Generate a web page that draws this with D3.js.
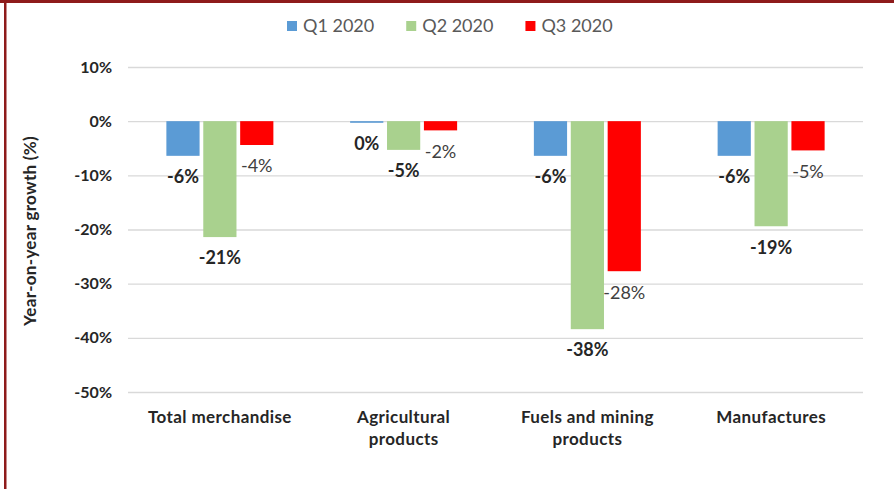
<!DOCTYPE html>
<html>
<head>
<meta charset="utf-8">
<script src="https://cdn.jsdelivr.net/npm/d3@7/dist/d3.min.js"></script>
<style>
  html, body { margin: 0; padding: 0; background: #fff; }
  svg { display: block; font-family: Lato, "Open Sans", sans-serif; }
</style>
</head>
<body>
<svg id="chart" width="894" height="489"></svg>
<script>
// ---- data ----
const categories = [["Total merchandise"], ["Agricultural", "products"], ["Fuels and mining", "products"], ["Manufactures"]];
const seriesNames = ["Q1 2020", "Q2 2020", "Q3 2020"];
const q1 = [-6.4, -0.3, -6.4, -6.4];
const q2 = [-21.4, -5.3, -38.4, -19.4];
const q3 = [-4.4, -1.7, -27.7, -5.4];
const yTicks = [10, 0, -10, -20, -30, -40, -50];
const colors = ["#5B9BD5", "#A9D18E", "#FF0000"];

const seriesValues = [q1, q2, q3];
const catKeys = categories.map(c => c.join(" "));

const svg = d3.select("#chart");

// frame
svg.append("rect").attr("x", 0).attr("y", 0).attr("width", 894).attr("height", 3).attr("fill", "#8E1B1B");
svg.append("rect").attr("x", 4).attr("y", 0).attr("width", 2.5).attr("height", 489).attr("fill", "#8E1B1B");

const x = d3.scaleBand().domain(catKeys).range([128, 863]).paddingInner(0).paddingOuter(0);
const xSub = d3.scaleBand().domain(seriesNames).range([-53.5, 53.5]).paddingInner(0.1).paddingOuter(0);
const y = d3.scaleLinear().domain([-50, 10]).range([392, 67]);

// gridlines
const yAxis = d3.axisLeft(y).tickValues(yTicks).tickSize(-(863 - 128)).tickFormat(d => d + "%").tickPadding(16);
const gy = svg.append("g").attr("transform", "translate(128,0)").call(yAxis);
gy.select(".domain").remove();
gy.selectAll(".tick line").attr("stroke", "#D9D9D9").attr("stroke-width", 1.3);
gy.selectAll(".tick text").attr("font-size", 16).attr("font-weight", "bold").attr("fill", "#262626")
  .attr("font-family", "Lato, sans-serif");

// bars
const groups = svg.append("g").selectAll("g").data(catKeys).join("g")
  .attr("transform", d => `translate(${x(d) + x.bandwidth() / 2},0)`);

seriesNames.forEach((s, si) => {
  groups.append("rect")
    .attr("x", xSub(s))
    .attr("width", xSub.bandwidth())
    .attr("y", (d, i) => Math.min(y(0), y(seriesValues[si][i])))
    .attr("height", (d, i) => Math.abs(y(seriesValues[si][i]) - y(0)))
    .attr("fill", colors[si]);
});

// data labels
seriesNames.forEach((s, si) => {
  groups.append("text")
    .attr("x", xSub(s) + xSub.bandwidth() / 2)
    .attr("y", (d, i) => y(seriesValues[si][i]) + 21)
    .attr("dy", "0.35em")
    .attr("text-anchor", "middle")
    .attr("font-size", 18)
    .attr("font-weight", si === 2 ? "normal" : "bold")
    .attr("fill", si === 2 ? "#404040" : "#262626")
    .text((d, i) => { const r = Math.round(seriesValues[si][i]); return (r === 0 ? 0 : r) + "%"; });
});

// category labels
const catG = svg.append("g");
categories.forEach((lines, i) => {
  const t = catG.append("text")
    .attr("x", x(catKeys[i]) + x.bandwidth() / 2)
    .attr("y", 423)
    .attr("text-anchor", "middle")
    .attr("font-size", 17)
    .attr("letter-spacing", 0.4)
    .attr("font-weight", "bold")
    .attr("fill", "#262626");
  lines.forEach((ln, j) => {
    t.append("tspan").attr("x", x(catKeys[i]) + x.bandwidth() / 2).attr("dy", j === 0 ? 0 : 22).text(ln);
  });
});

// axis title
svg.append("text")
  .attr("transform", "translate(30,231) rotate(-90)")
  .attr("text-anchor", "middle")
  .attr("dy", "0.35em")
  .attr("font-size", 17)
  .attr("letter-spacing", 0.3)
  .attr("font-weight", "bold")
  .attr("fill", "#262626")
  .text("Year-on-year growth (%)");

// legend
const legend = svg.append("g");
let lx = 287;
seriesNames.forEach((s, i) => {
  legend.append("rect").attr("x", lx).attr("y", 21).attr("width", 10).attr("height", 10).attr("fill", colors[i]);
  const t = legend.append("text").attr("x", lx + 16).attr("y", 26).attr("dy", "0.35em")
    .attr("font-size", 18).attr("fill", "#595959").text(s);
  lx = lx + 16 + t.node().getComputedTextLength() + 32;
});
</script>
</body>
</html>
